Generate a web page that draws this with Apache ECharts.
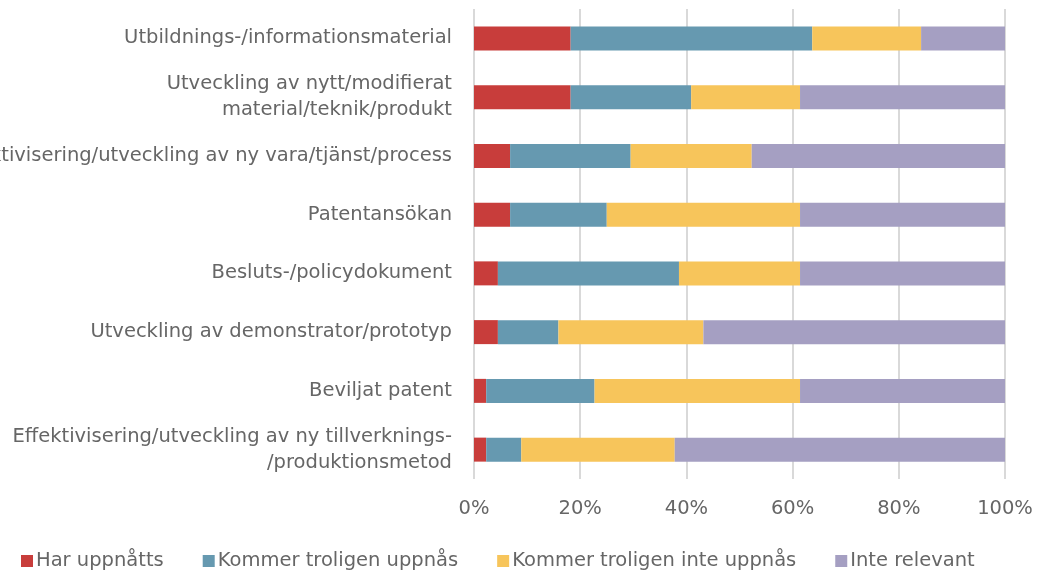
<!DOCTYPE html>
<html>
<head>
<meta charset="utf-8">
<script src="https://cdn.jsdelivr.net/npm/echarts@6/dist/echarts.min.js"></script>
<style>
  html, body { margin: 0; padding: 0; background: #fff; }
  #chart { width: 1038px; height: 571px; }
</style>
</head>
<body>
<div id="chart"></div>
<script>
  // kategorier, uppifrån och ned
  var categories = [
    'Utbildnings-/informationsmaterial',
    'Utveckling av nytt/modifierat\nmaterial/teknik/produkt',
    'Effektivisering/utveckling av ny vara/tjänst/process',
    'Patentansökan',
    'Besluts-/policydokument',
    'Utveckling av demonstrator/prototyp',
    'Beviljat patent',
    'Effektivisering/utveckling av ny tillverknings-\n/produktionsmetod'
  ];
  var seriesNames = ['Har uppnåtts', 'Kommer troligen uppnås', 'Kommer troligen inte uppnås', 'Inte relevant'];
  // andelar i procent
  var harUppnatts = [18.2, 18.2, 6.8, 6.8, 4.5, 4.5, 2.3, 2.3];
  var kommerUppnas = [45.5, 22.7, 22.7, 18.2, 34.1, 11.4, 20.4, 6.6];
  var kommerInteUppnas = [20.5, 20.5, 22.8, 36.4, 22.8, 27.3, 38.7, 28.9];
  var inteRelevant = [15.8, 38.6, 47.7, 38.6, 38.6, 56.8, 38.6, 62.2];
  var xTicks = [0, 20, 40, 60, 80, 100];

  var colors = ['#C83D3B', '#6699B0', '#F7C55B', '#A59FC2'];
  var font = '"DejaVu Sans", sans-serif';
  var textColor = '#666666';

  var values = [harUppnatts, kommerUppnas, kommerInteUppnas, inteRelevant];
  // kategoriaxeln ritas nedifrån, så vänd ordningen
  var cats = categories.slice().reverse();
  var series = [];
  for (var i = 0; i < seriesNames.length; i++) {
    series.push({
      name: seriesNames[i],
      type: 'bar',
      stack: 'total',
      barWidth: 24,
      data: values[i].slice().reverse(),
      itemStyle: { color: colors[i] },
      emphasis: { disabled: true }
    });
  }

  var myChart = echarts.init(document.getElementById('chart'));
  var option = {
    animation: false,
    textStyle: { fontFamily: font },
    grid: { left: 474, right: 33, top: 9, bottom: 92, containLabel: false, outerBoundsMode: 'none' },
    legend: {
      top: 546,
      left: 16,
      itemWidth: 12,
      itemHeight: 12,
      itemGap: 39,
      icon: 'rect',
      textStyle: { fontFamily: font, fontSize: 19.5, color: textColor, padding: [0, 0, 0, -2] },
      data: seriesNames
    },
    xAxis: {
      type: 'value',
      min: 0,
      max: 100,
      interval: 20,
      axisLine: { show: false },
      axisTick: { show: false },
      splitLine: { show: true, lineStyle: { color: '#D9D9D9', width: 2 } },
      axisLabel: {
        fontFamily: font,
        fontSize: 19.5,
        color: textColor,
        margin: 20,
        formatter: function (v) { return xTicks.indexOf(v) >= 0 ? v + '%' : ''; }
      }
    },
    yAxis: {
      type: 'category',
      data: cats,
      axisLine: { show: false },
      axisTick: { show: false },
      axisLabel: {
        fontFamily: font,
        fontSize: 19.5,
        color: textColor,
        margin: 22,
        lineHeight: 26
      }
    },
    series: series
  };
  myChart.setOption(option);
</script>
</body>
</html>
